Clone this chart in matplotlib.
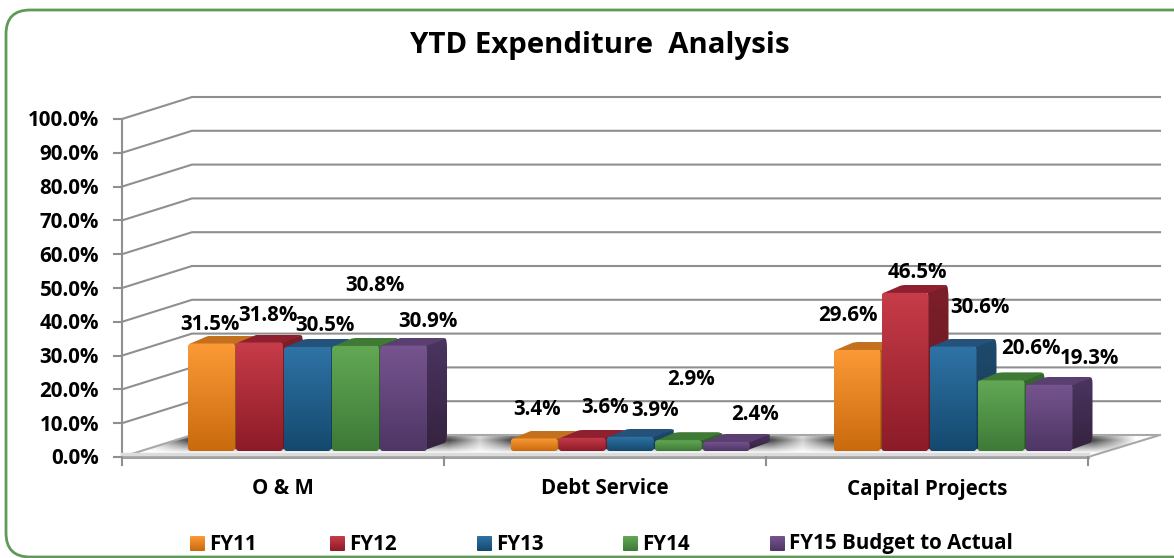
"""YTD expenditure analysis, drawn as a 3D style column chart."""
import numpy as np
import matplotlib
matplotlib.use("Agg")
import matplotlib.pyplot as plt
from matplotlib.colors import to_rgb
from matplotlib.patches import FancyBboxPatch, PathPatch, Polygon
from matplotlib.path import Path

CATEGORIES = ["O & M", "Debt Service", "Capital Projects"]
SERIES = ["FY11", "FY12", "FY13", "FY14", "FY15 Budget to Actual"]
FY11 = [31.5, 3.4, 29.6]
FY12 = [31.8, 3.6, 46.5]
FY13 = [30.5, 3.9, 30.6]
FY14 = [30.8, 2.9, 20.6]
FY15 = [30.9, 2.4, 19.3]
VALUES = [FY11, FY12, FY13, FY14, FY15]
TICKS = [0, 10, 20, 30, 40, 50, 60, 70, 80, 90, 100]

# front, front bottom, top, side top, side bottom
COLORS = [
    ("#fb9a36", "#c96a0e", "#c4711f", "#a85c14", "#8f4c0e"),
    ("#c73c48", "#8c1b28", "#8e2030", "#7c1f2a", "#661822"),
    ("#2f73a6", "#14496e", "#24527a", "#1f4a6c", "#163a56"),
    ("#62a854", "#3d7a38", "#3f7a36", "#35682f", "#2b5526"),
    ("#76548f", "#4e3665", "#5a3f70", "#4a3560", "#35233f"),
]

# chart geometry in pixels of the 1174x558 picture
X0, X1 = 122, 1088
Y0, PX = 457, 3.38
DX, DY = 70, 22
BAR_X0, BAR_STEP, BAR_W, GROUP_STEP = 188, 48, 46, 322.75
BAR_Y0 = 450
BAR_DX, BAR_DY = 21, 8

# manual data label placement, offset from the top centre of each bar
LABEL_DX = [
    [-2, 8, 17, 19, 24],
    [2, 22, 24, 12, 28],
    [-10, 12, 26, 29, 40],
]
LABEL_DY = [
    [-19, -27, -21, -60, -24],
    [-29, -30, -26, -61, -27],
    [-34, -20, -39, -32, -26],
]

FONT = "Open Sans"
GRID = "#8f8f8f"
LABEL_SIZE = 14.8


def value_y(v):
    return Y0 - v * PX


def gradient(ax, patch, top, bottom, zorder):
    """Fill a patch with a vertical gradient, clipped to its outline."""
    patch.set(facecolor="none", edgecolor="none", zorder=zorder)
    ax.add_patch(patch)
    box = patch.get_path().transformed(patch.get_patch_transform()).get_extents()
    t = np.linspace(0, 1, 64)[:, None, None]
    img = (1 - t) * np.array(to_rgb(top)) + t * np.array(to_rgb(bottom))
    im = ax.imshow(img, extent=(box.x0, box.x1, box.y1, box.y0), aspect="auto",
                   zorder=zorder, interpolation="bilinear")
    im.set_clip_path(patch)


def rounded_poly(points, r=0.2):
    """Polygon path with softly rounded corners."""
    pts = [np.array(p, dtype=float) for p in points]
    verts, codes = [], []
    n = len(pts)
    for i in range(n):
        prev, cur, nxt = pts[i - 1], pts[i], pts[(i + 1) % n]
        a = cur + (prev - cur) * r
        b = cur + (nxt - cur) * r
        verts += [a, cur, b]
        codes += [Path.LINETO, Path.CURVE3, Path.CURVE3]
    codes[0] = Path.MOVETO
    verts.append(verts[0])
    codes.append(Path.CLOSEPOLY)
    return Path(verts, codes)


def draw_walls(ax):
    for v in TICKS:
        y = value_y(v)
        if v > 0:
            ax.plot([X0, X0 + DX, X1 + DX + 2], [y, y - DY, y - DY],
                    color=GRID, lw=1.5, zorder=1)
        ax.plot([X0 - 8, X0], [y, y], color=GRID, lw=1.5, zorder=1)
        ax.text(99, y + 2, "%.1f%%" % v, ha="right", va="center", fontsize=LABEL_SIZE,
                fontweight="bold", family=FONT, color="black")
    ax.plot([X0, X0], [value_y(100), Y0], color=GRID, lw=1.5, zorder=1)


def draw_floor(ax):
    corners = [(X0, Y0), (X0 + DX, Y0 - DY), (X1 + DX, Y0 - DY), (X1, Y0)]
    floor = Polygon(corners, closed=True, facecolor="white", edgecolor="none",
                    zorder=2)
    ax.add_patch(floor)

    # shadow thrown on the floor around each group of bars
    xs = np.arange(X0, X1 + DX + 1)
    ys = np.linspace(Y0 - DY, Y0, 44)
    across = np.zeros(len(xs))
    for g in range(len(CATEGORIES)):
        left = BAR_X0 + g * GROUP_STEP
        right = left + 5 * BAR_STEP + BAR_DX
        dist = np.maximum(np.maximum(left - xs, xs - right), 0)
        across = np.maximum(across, np.clip(1 - dist / 42.0, 0, 1))
    down = np.clip(1 - np.abs(ys - (Y0 - 17)) / 13.0, 0, 1)
    rgba = np.zeros((len(ys), len(xs), 4))
    rgba[..., :3] = 0.15
    rgba[..., 3] = 0.85 * np.outer(down, across)
    im = ax.imshow(rgba, extent=(xs[0], xs[-1], Y0, Y0 - DY), aspect="auto",
                   zorder=2, interpolation="bilinear")
    im.set_clip_path(floor)

    ax.plot([X0, X0 + DX, X1 + DX], [Y0, Y0 - DY, Y0 - DY], color="#a8a8a8",
            lw=1.5, zorder=2)
    ax.plot([X1, X1 + DX + 2], [Y0, Y0 - DY], color="#a8a8a8", lw=1.5, zorder=2)
    ax.plot([X0, X1], [Y0, Y0], color="#a0a0a0", lw=2.2, zorder=2)
    ax.plot([X0, X1], [Y0 - 3, Y0 - 3], color="#dcdcdc", lw=2.5, zorder=2)
    for i in range(len(CATEGORIES) + 1):
        x = X0 + i * (X1 - X0) / len(CATEGORIES)
        ax.plot([x, x], [Y0, Y0 + 8], color=GRID, lw=1.5, zorder=2)


def draw_bar(ax, x, value, colors, zorder):
    front, front_low, top, side, side_low = colors
    y = BAR_Y0 - value * PX
    gradient(ax, PathPatch(rounded_poly([(x + BAR_W - 1, BAR_Y0), (x + BAR_W + BAR_DX, BAR_Y0 - BAR_DY),
                                         (x + BAR_W + BAR_DX, y - BAR_DY), (x + BAR_W - 1, y)], 0.1)),
             side, side_low, zorder)
    gradient(ax, PathPatch(rounded_poly([(x, y + 1), (x + BAR_DX, y - BAR_DY),
                                         (x + BAR_W + BAR_DX, y - BAR_DY), (x + BAR_W, y + 1)], 0.12)),
             top, top, zorder)
    box = FancyBboxPatch((x + 2, y + 2), BAR_W - 3, value * PX - 3,
                         boxstyle="round,pad=2,rounding_size=3")
    gradient(ax, box, front, front_low, zorder + 0.1)


def draw_legend(ax):
    swatch_x = [190, 330, 477, 623, 770]
    for x, name, colors in zip(swatch_x, SERIES, COLORS):
        box = FancyBboxPatch((x, 536), 15, 15, boxstyle="round,pad=0,rounding_size=1")
        gradient(ax, box, colors[0], colors[1], 6)
        ax.text(x + 19, 544, name, ha="left", va="center", fontsize=LABEL_SIZE,
                fontweight="bold", family=FONT, color="black")


def main():
    fig = plt.figure(figsize=(11.74, 5.58), dpi=100, facecolor="white")
    ax = fig.add_axes([0, 0, 1, 1])

    frame = FancyBboxPatch((28, 32), 1168, 503, linewidth=2, edgecolor="#5f9a57",
                           facecolor="white", zorder=0,
                           boxstyle="round,pad=22,rounding_size=24")
    ax.add_patch(frame)

    ax.text(600, 45, "YTD Expenditure  Analysis", ha="center", va="center",
            fontsize=21.2, fontweight="bold", family=FONT, color="black")

    draw_walls(ax)
    draw_floor(ax)

    for g, category in enumerate(CATEGORIES):
        left = BAR_X0 + g * GROUP_STEP
        for i, series in enumerate(VALUES):
            x = left + i * BAR_STEP
            draw_bar(ax, x, series[g], COLORS[i], 3 + i * 0.3)
        for i, series in enumerate(VALUES):
            x = left + i * BAR_STEP
            ax.text(x + BAR_STEP / 2 + LABEL_DX[g][i],
                    BAR_Y0 - series[g] * PX + LABEL_DY[g][i],
                    "%.1f%%" % series[g], ha="center", va="center", fontsize=LABEL_SIZE,
                    fontweight="bold", family=FONT, color="black", zorder=7)
        center = X0 + (g + 0.5) * (X1 - X0) / len(CATEGORIES)
        ax.text(center, 489, category, ha="center", va="center", fontsize=LABEL_SIZE,
                fontweight="bold", family=FONT, color="black")

    draw_legend(ax)

    ax.set_xlim(0, 1174)
    ax.set_ylim(558, 0)
    ax.axis("off")
    fig.savefig("out.png", dpi=100)
    plt.close(fig)


if __name__ == "__main__":
    main()
